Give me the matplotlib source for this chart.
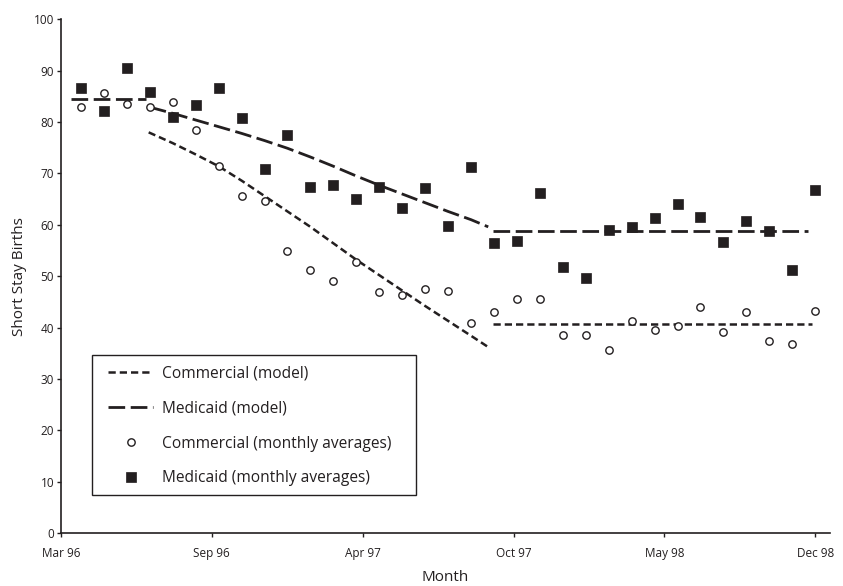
import matplotlib
matplotlib.use('Agg')
import matplotlib.pyplot as plt
from matplotlib.patches import Rectangle
import numpy as np

plt.rcParams['font.family'] = ['Open Sans', 'DejaVu Sans']
INK = '#231f20'

# ── Data ──────────────────────────────────────────────────────────────
months = np.arange(33)

medicaid_avg = [86.7, 82.1, 90.5, 85.9, 80.9, 83.3, 86.7, 80.7, 70.9, 77.4,
                67.3, 67.8, 65.1, 67.3, 63.2, 67.1, 59.8, 71.3, 56.5, 56.8,
                66.1, 51.8, 49.6, 58.9, 59.5, 61.3, 64.1, 61.6, 56.7, 60.7,
                58.7, 51.2, 66.7]

commercial_avg = [83.0, 85.7, 83.5, 82.9, 84.0, 78.5, 71.5, 65.6, 64.7, 54.9,
                  51.2, 49.1, 52.7, 46.9, 46.3, 47.5, 47.1, 40.9, 43.1, 45.5,
                  45.5, 38.5, 38.6, 35.7, 41.3, 39.6, 40.3, 44.0, 39.2, 43.1,
                  37.3, 36.8, 43.2]

# model pieces: before, decline, after
med_pre_x = [-0.44, 2.83]
med_pre_y = [84.5, 84.5]
med_dec_x = [3, 4, 5, 6, 7, 8, 9, 10, 11, 12, 13, 14, 15, 16, 17, 17.75]
med_dec_y = [82.9, 81.7, 80.4, 79.1, 77.8, 76.4, 74.9, 73.2, 71.4, 69.5,
             67.7, 66.0, 64.3, 62.6, 61.0, 59.6]
med_post_x = [17.94, 31.69]
med_post_y = [58.8, 58.8]

com_dec_x = [2.95, 4, 5, 6, 7, 8, 9, 10, 11, 12, 13, 14, 15, 16, 17, 17.75]
com_dec_y = [78.0, 75.9, 73.7, 71.4, 68.6, 65.6, 62.6, 59.6, 56.4, 53.2,
             50.2, 47.2, 44.2, 41.3, 38.4, 36.2]
com_post_x = [17.94, 31.88]
com_post_y = [40.7, 40.7]

tick_labels = ['Mar 96', 'Sep 96', 'Apr 97', 'Oct 97', 'May 98', 'Dec 98']

# ── Figure ────────────────────────────────────────────────────────────
fig = plt.figure(figsize=(8.43, 5.86), dpi=100)
ax = fig.add_axes([0.0724, 0.0904, 0.912, 0.8766])

short = dict(color=INK, lw=1.8, dashes=(2.9, 1.6), dash_capstyle='butt')
long_ = dict(color=INK, lw=2.0, dashes=(6.0, 2.0), dash_capstyle='butt')

ax.plot(com_dec_x, com_dec_y, label='Commercial (model)', **short)
ax.plot(com_post_x, com_post_y, **short)
ax.plot(med_pre_x, med_pre_y, label='Medicaid (model)', **long_)
ax.plot(med_dec_x, med_dec_y, **long_)
ax.plot(med_post_x, med_post_y, **long_)

ax.plot(months, commercial_avg, 'o', ms=5.3, mfc='white', mec=INK, mew=1.0,
        label='Commercial (monthly averages)')
ax.plot(months, medicaid_avg, 's', ms=6.5, mfc=INK, mec=INK, mew=0.5,
        label='Medicaid (monthly averages)')

ax.set_xlim(-0.87, 32.64)
ax.set_ylim(0, 100)
ax.set_xticks(np.linspace(-0.87, 32.0, 6))
ax.set_xticklabels(tick_labels)
ax.set_yticks(np.arange(0, 101, 10))

for s in ['top', 'right']:
    ax.spines[s].set_visible(False)
for s in ['left', 'bottom']:
    ax.spines[s].set_color(INK)
    ax.spines[s].set_linewidth(1.2)

ax.tick_params(axis='both', colors=INK, labelsize=8.5, length=3, width=1.0)
ax.tick_params(axis='x', pad=7)
ax.tick_params(axis='y', pad=2)

ax.set_ylabel('Short Stay Births', fontsize=11, color=INK, labelpad=5)
ax.set_xlabel('Month', fontsize=11, color=INK, labelpad=7)

# legend content without frame, box drawn separately
leg = ax.legend(loc='upper left', bbox_to_anchor=(0.0611, 0.326),
                fontsize=11.2, frameon=False, borderaxespad=0, borderpad=0,
                handlelength=2.9, handletextpad=0.55, labelspacing=1.22)
for t in leg.get_texts():
    t.set_color(INK)
ax.add_patch(Rectangle((0.0399, 0.074), 0.4213, 0.2725, transform=ax.transAxes,
                       fill=False, edgecolor=INK, lw=1.0, zorder=5))

plt.savefig('out.png', dpi=100)
plt.close()
